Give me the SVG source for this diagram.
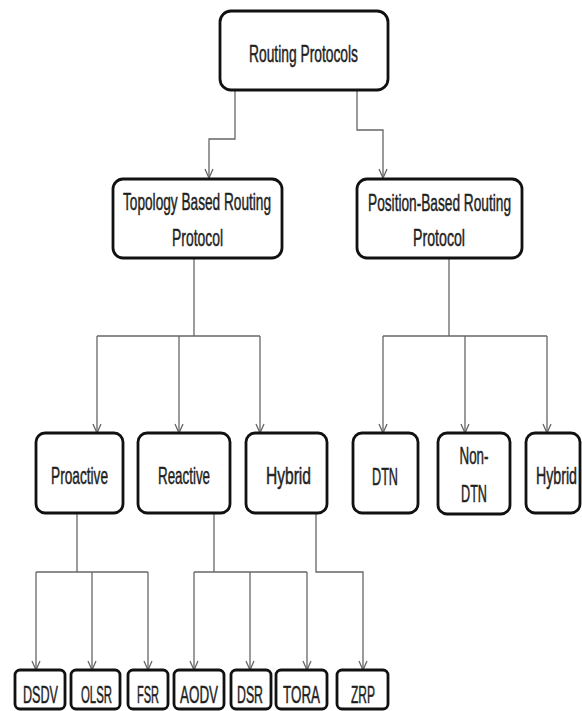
<svg xmlns="http://www.w3.org/2000/svg" width="582" height="711" viewBox="0 0 582 711">
<style>
.box{fill:#fff;stroke:#111;stroke-width:2.8}
.t{font-family:"Liberation Sans",sans-serif;font-size:24px;fill:#1e1e1e;stroke:#1e1e1e;stroke-width:0.5;text-anchor:middle}
.c{fill:none;stroke:#666;stroke-width:1.3}
</style>
<defs>
<marker id="v" viewBox="-5 -10 10 11" refX="0" refY="0" markerWidth="10" markerHeight="11" markerUnits="userSpaceOnUse" orient="0">
<polyline points="-4,-9 0,0 4,-9" fill="none" stroke="#666" stroke-width="1.3"/>
</marker>
</defs>
<rect x="0" y="0" width="582" height="711" fill="#fff"/>
<g id="connectors">
<polyline class="c" points="235,90 235,139 209,139 209,178" marker-end="url(#v)"/>
<polyline class="c" points="357,90 357,130 383,130 383,178" marker-end="url(#v)"/>
<polyline class="c" points="194,258 194,336"/>
<polyline class="c" points="97,336 260,336"/>
<polyline class="c" points="97,336 97,433" marker-end="url(#v)"/>
<polyline class="c" points="179,336 179,433" marker-end="url(#v)"/>
<polyline class="c" points="260,336 260,433" marker-end="url(#v)"/>
<polyline class="c" points="449,258 449,336"/>
<polyline class="c" points="383,336 547,336"/>
<polyline class="c" points="383,336 383,433" marker-end="url(#v)"/>
<polyline class="c" points="465,336 465,433" marker-end="url(#v)"/>
<polyline class="c" points="547,336 547,433" marker-end="url(#v)"/>
<polyline class="c" points="77,513 77,572"/>
<polyline class="c" points="36,572 148,572"/>
<polyline class="c" points="36,572 36,670" marker-end="url(#v)"/>
<polyline class="c" points="92,572 92,670" marker-end="url(#v)"/>
<polyline class="c" points="148,572 148,670" marker-end="url(#v)"/>
<polyline class="c" points="214,513 214,572"/>
<polyline class="c" points="194,572 307,572"/>
<polyline class="c" points="194,572 194,670" marker-end="url(#v)"/>
<polyline class="c" points="250,572 250,670" marker-end="url(#v)"/>
<polyline class="c" points="307,572 307,670" marker-end="url(#v)"/>
<polyline class="c" points="316,513 316,572 363,572 363,670" marker-end="url(#v)"/>
</g>
<g id="routing-protocols"><rect class="box" x="220" y="11" width="168" height="79" rx="11"/><text class="t" transform="translate(303.5,62) scale(0.6,1)" textLength="181.7" lengthAdjust="spacingAndGlyphs">Routing Protocols</text></g>
<g id="topology"><rect class="box" x="113" y="179" width="169" height="79" rx="10"/><text class="t" transform="translate(197,210) scale(0.6,1)" textLength="246.7" lengthAdjust="spacingAndGlyphs">Topology Based Routing</text><text class="t" transform="translate(197.5,246) scale(0.6,1)" textLength="85" lengthAdjust="spacingAndGlyphs">Protocol</text></g>
<g id="position"><rect class="box" x="357" y="179" width="165" height="79" rx="10"/><text class="t" transform="translate(439.5,211) scale(0.6,1)" textLength="238.3" lengthAdjust="spacingAndGlyphs">Position-Based Routing</text><text class="t" transform="translate(439,246) scale(0.6,1)" textLength="86.7" lengthAdjust="spacingAndGlyphs">Protocol</text></g>
<g id="proactive"><rect class="box" x="36" y="433" width="87" height="80" rx="9"/><text class="t" transform="translate(79.5,484) scale(0.6,1)" textLength="95" lengthAdjust="spacingAndGlyphs">Proactive</text></g>
<g id="reactive"><rect class="box" x="138" y="433" width="92" height="80" rx="9"/><text class="t" transform="translate(184,484) scale(0.6,1)" textLength="86.7" lengthAdjust="spacingAndGlyphs">Reactive</text></g>
<g id="hybrid1"><rect class="box" x="246" y="433" width="81" height="80" rx="9"/><text class="t" transform="translate(288.5,484) scale(0.6,1)" textLength="75" lengthAdjust="spacingAndGlyphs">Hybrid</text></g>
<g id="dtn"><rect class="box" x="353" y="433" width="65" height="80" rx="9"/><text class="t" transform="translate(385,485) scale(0.6,1)" textLength="43.3" lengthAdjust="spacingAndGlyphs">DTN</text></g>
<g id="non-dtn"><rect class="box" x="438" y="433" width="72" height="81" rx="9"/><text class="t" transform="translate(474,464) scale(0.6,1)" textLength="48.3" lengthAdjust="spacingAndGlyphs">Non-</text><text class="t" transform="translate(474,502) scale(0.6,1)" textLength="43.3" lengthAdjust="spacingAndGlyphs">DTN</text></g>
<g id="hybrid2"><rect class="box" x="526" y="433" width="54" height="80" rx="9"/><text class="t" transform="translate(556.5,484) scale(0.6,1)" textLength="68.3" lengthAdjust="spacingAndGlyphs">Hybrid</text></g>
<g id="dsdv"><rect class="box" x="15" y="670" width="50" height="39" rx="5"/><text class="t" transform="translate(40.5,703) scale(0.6,1)" textLength="58.3" lengthAdjust="spacingAndGlyphs">DSDV</text></g>
<g id="olsr"><rect class="box" x="71" y="670" width="49" height="39" rx="5"/><text class="t" transform="translate(96.5,703) scale(0.6,1)" textLength="51.7" lengthAdjust="spacingAndGlyphs">OLSR</text></g>
<g id="fsr"><rect class="box" x="128" y="670" width="40" height="39" rx="5"/><text class="t" transform="translate(148,703) scale(0.6,1)" textLength="36.7" lengthAdjust="spacingAndGlyphs">FSR</text></g>
<g id="aodv"><rect class="box" x="174" y="670" width="50" height="39" rx="5"/><text class="t" transform="translate(199,703) scale(0.6,1)" textLength="63.3" lengthAdjust="spacingAndGlyphs">AODV</text></g>
<g id="dsr"><rect class="box" x="231" y="670" width="40" height="39" rx="5"/><text class="t" transform="translate(250,703) scale(0.6,1)" textLength="43.3" lengthAdjust="spacingAndGlyphs">DSR</text></g>
<g id="tora"><rect class="box" x="276" y="670" width="51" height="39" rx="5"/><text class="t" transform="translate(301.5,703) scale(0.6,1)" textLength="61.7" lengthAdjust="spacingAndGlyphs">TORA</text></g>
<g id="zrp"><rect class="box" x="337" y="670" width="51" height="39" rx="5"/><text class="t" transform="translate(363,703) scale(0.6,1)" textLength="40" lengthAdjust="spacingAndGlyphs">ZRP</text></g>
</svg>
